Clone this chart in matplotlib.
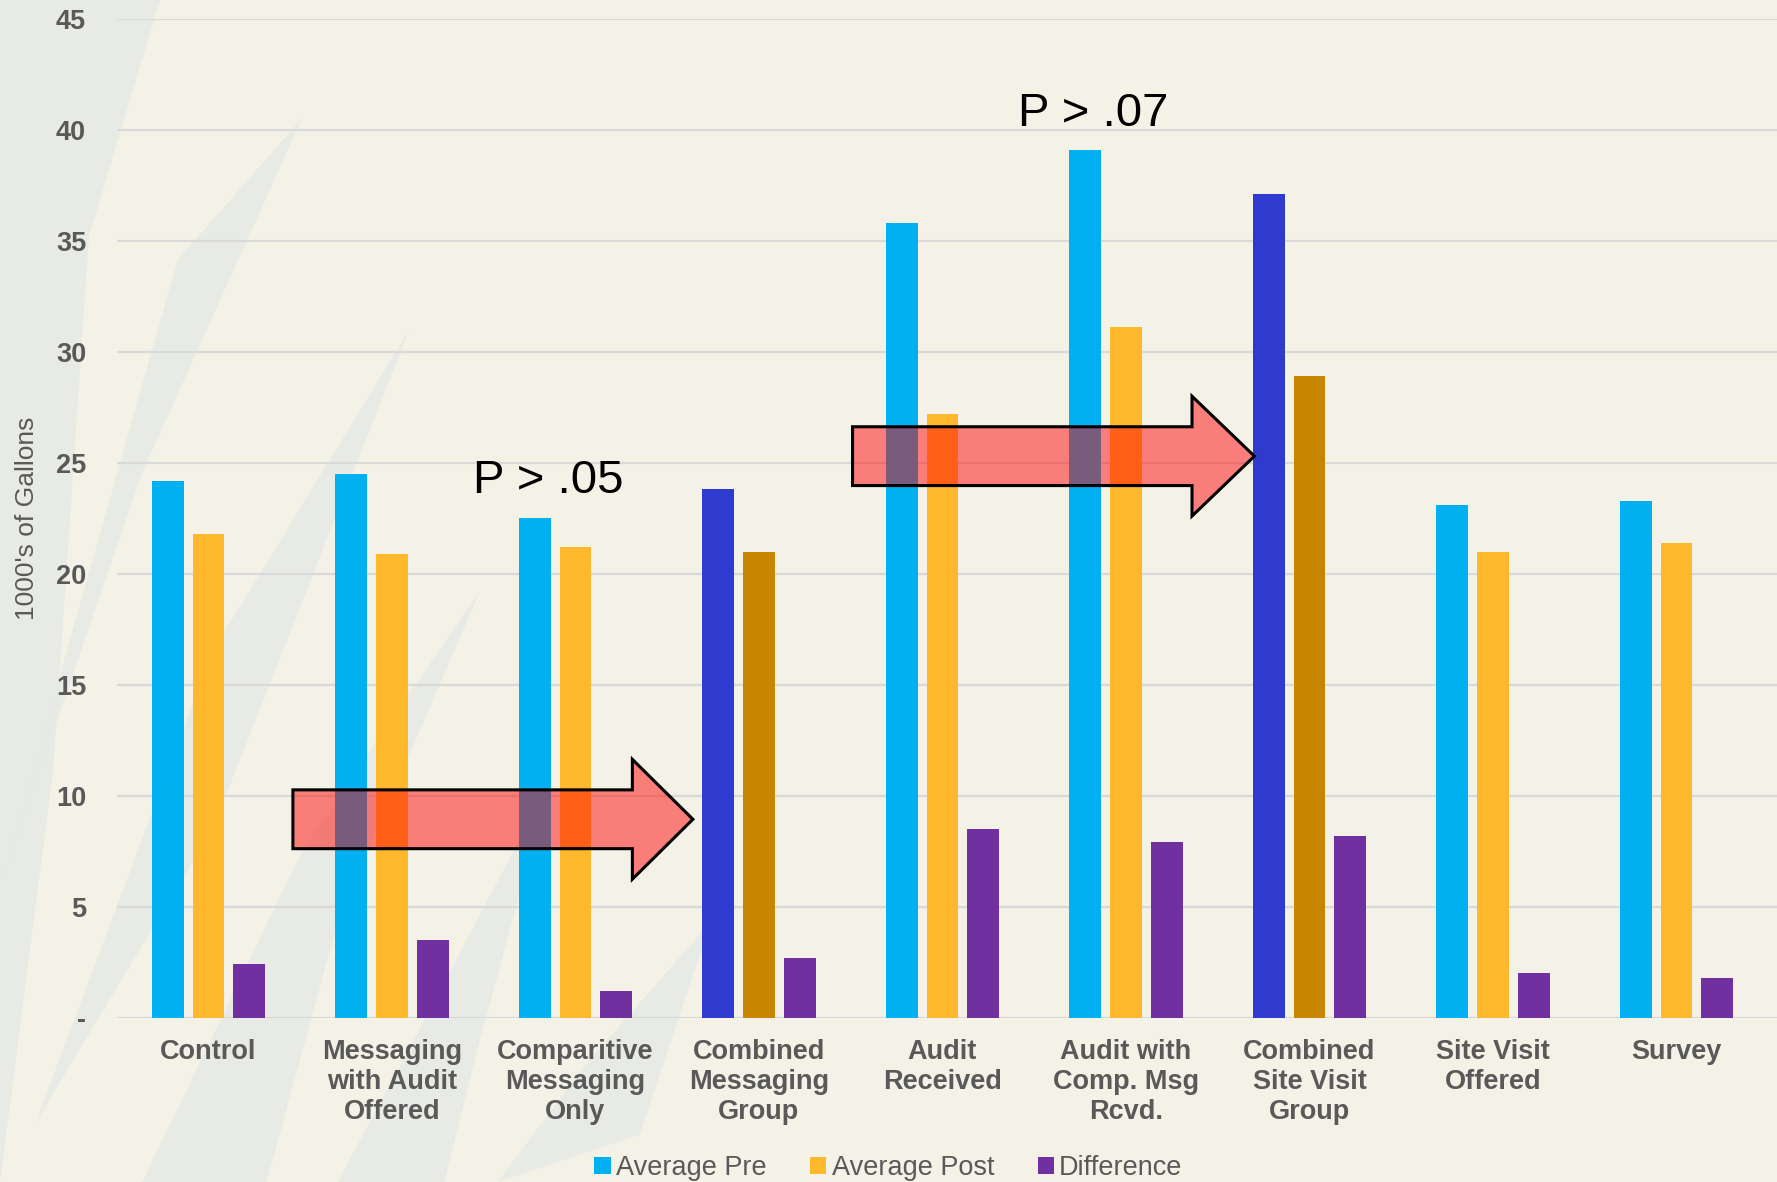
import matplotlib.pyplot as plt
import numpy as np
from matplotlib.patches import FancyArrow, Polygon

categories = ["Control", "Messaging\nwith Audit\nOffered", "Comparitive\nMessaging\nOnly",
              "Combined\nMessaging\nGroup", "Audit\nReceived", "Audit with\nComp. Msg\nRcvd.",
              "Combined\nSite Visit\nGroup", "Site Visit\nOffered", "Survey"]
avg_pre = [24.2, 24.5, 22.5, 23.8, 35.8, 39.1, 37.1, 23.1, 23.3]
avg_post = [21.8, 20.9, 21.2, 21.0, 27.2, 31.1, 28.9, 21.0, 21.4]
difference = [2.4, 3.5, 1.2, 2.7, 8.5, 7.9, 8.2, 2.0, 1.8]
highlight = [3, 6]
yticks = [0, 5, 10, 15, 20, 25, 30, 35, 40, 45]
ytick_labels = ["-", "5", "10", "15", "20", "25", "30", "35", "40", "45"]

# (x start, x end, y center, head start x) in data units
arrows = [(0.46, 2.64, 8.94, 2.31), (3.51, 5.70, 25.3, 5.36)]
notes = [(1.44, 24.2, "P > .05"), (4.41, 40.7, "P > .07")]

c_pre = "#00B0F0"
c_post = "#FFB72B"
c_diff = "#7030A0"
c_pre_hi = "#2F3BCF"
c_post_hi = "#C78500"
grey = "#595959"
bg = "#F4F1E7"

plt.rcParams['font.family'] = ['Liberation Sans', 'DejaVu Sans']

fig = plt.figure(figsize=(17.77, 11.82), dpi=100)
fig.patch.set_facecolor(bg)

# pale streaks behind the chart
bax = fig.add_axes([0, 0, 1, 1], zorder=-1)
bax.set_xlim(0, 1)
bax.set_ylim(0, 1)
bax.axis("off")
streaks = [
    [(0.00, 0.00), (0.00, 1.00), (0.09, 1.00), (0.05, 0.80), (0.03, 0.35)],
    [(0.00, 0.25), (0.10, 0.78), (0.17, 0.90), (0.08, 0.60)],
    [(0.02, 0.05), (0.12, 0.45), (0.23, 0.72), (0.12, 0.30)],
    [(0.08, 0.00), (0.17, 0.28), (0.27, 0.50), (0.19, 0.22), (0.15, 0.00)],
    [(0.19, 0.00), (0.24, 0.14), (0.31, 0.34), (0.27, 0.12), (0.25, 0.00)],
    [(0.28, 0.00), (0.33, 0.10), (0.40, 0.22), (0.36, 0.04)],
]
for s in streaks:
    bax.add_patch(Polygon(s, closed=True, facecolor="#E6E9E5", edgecolor="none", alpha=0.85))

ax = fig.add_axes([0.0657, 0.139, 0.9345, 0.845])
ax.set_facecolor("none")

x = np.arange(len(categories))
w = 0.173
off = 0.222
pre_cols = [c_pre_hi if i in highlight else c_pre for i in x]
post_cols = [c_post_hi if i in highlight else c_post for i in x]
ax.bar(x - off, avg_pre, w, color=pre_cols, label="Average Pre", zorder=2)
ax.bar(x, avg_post, w, color=post_cols, label="Average Post", zorder=2)
ax.bar(x + off, difference, w, color=c_diff, label="Difference", zorder=2)

for x0, x1, yc, xh in arrows:
    ar = FancyArrow(x0, yc, x1 - x0, 0, width=2.65, head_width=5.4,
                    head_length=x1 - xh, length_includes_head=True,
                    facecolor=(1, 0, 0, 0.48), edgecolor="black", linewidth=2.2, zorder=3)
    ax.add_patch(ar)

for tx, ty, t in notes:
    ax.text(tx, ty, t, fontsize=34, color="black", va="center", ha="left", zorder=4)

ax.set_xlim(-0.5, len(categories) - 0.45)
ax.set_ylim(0, 45)
ax.set_yticks(yticks)
ax.set_yticklabels(ytick_labels, fontsize=19.5, fontweight="bold", color=grey)
ax.set_xticks(x)
ax.set_xticklabels(categories, fontsize=19.5, fontweight="bold", color=grey, linespacing=1.2)
ax.tick_params(axis="both", length=0)
ax.tick_params(axis="y", pad=22)
ax.tick_params(axis="x", pad=15)
ax.grid(axis="y", color="#D9D9D9", linewidth=1.6, zorder=1)
ax.set_axisbelow(True)
for sp in ax.spines.values():
    sp.set_visible(False)

ax.set_ylabel("1000's of Gallons", fontsize=19, color=grey, labelpad=12)

fig.legend(loc="lower center", bbox_to_anchor=(0.5, -0.02), ncol=3, frameon=False,
           fontsize=19.5, labelcolor=grey, handlelength=0.6, handleheight=0.6,
           handletextpad=0.2, columnspacing=1.6)

fig.savefig("out.png", dpi=100, facecolor=bg)
